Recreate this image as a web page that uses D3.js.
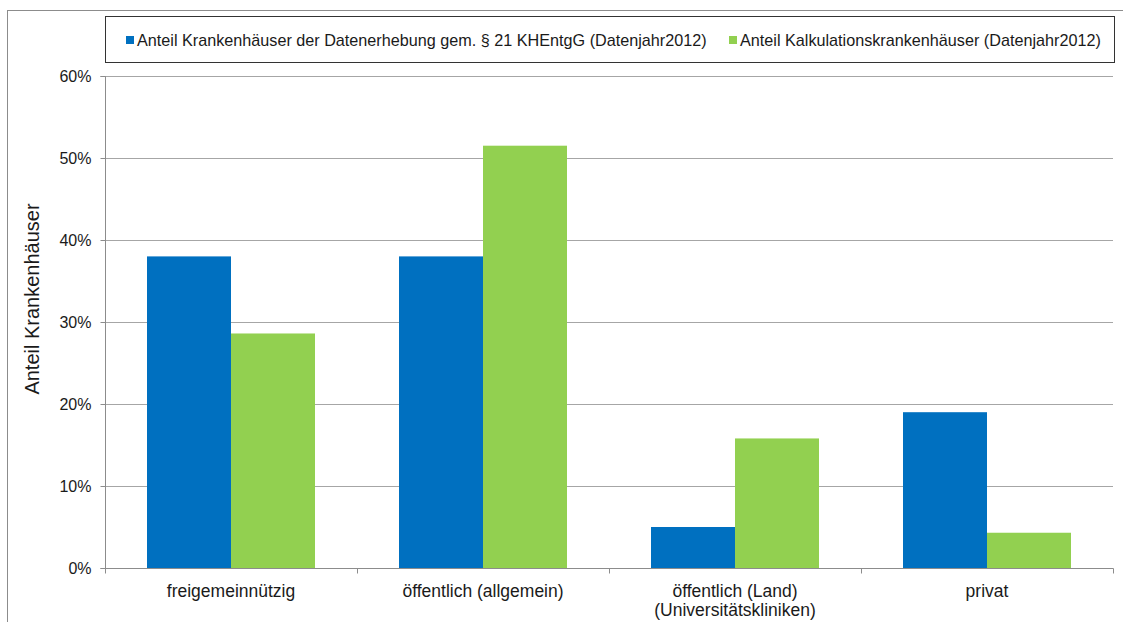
<!DOCTYPE html>
<html>
<head>
<meta charset="utf-8">
<script src="https://cdn.jsdelivr.net/npm/d3@7"></script>
<style>
	body { margin: 0; background: #fff; }
	svg { display: block; font-family: "Liberation Sans", Arial, sans-serif; }
</style>
</head>
<body>
<svg id="chart" width="1123" height="622"></svg>
<script>
const categories = [ 'freigemeinnützig', 'öffentlich (allgemein)', 'öffentlich (Land)\n(Universitätskliniken)', 'privat' ];
const seriesNames = [
	'Anteil Krankenhäuser der Datenerhebung gem. § 21 KHEntgG (Datenjahr2012)',
	'Anteil Kalkulationskrankenhäuser (Datenjahr2012)'
];
const datenerhebung = [ 0.380, 0.380, 0.050, 0.190 ];
const kalkulation = [ 0.286, 0.515, 0.158, 0.043 ];
const yTicks = [ 0, 0.1, 0.2, 0.3, 0.4, 0.5, 0.6 ];
const colors = [ '#0070C0', '#92D050' ];

const width = 1123, height = 622;
const margin = { top: 76, right: 10, bottom: 54, left: 105 };
const plotW = 1113 - margin.left;
const plotH = 568 - margin.top;

const svg = d3.select('#chart');

// outer frame
svg.append('rect')
	.attr('x', 7.5).attr('y', 10.5)
	.attr('width', width + 20).attr('height', height + 20)
	.attr('fill', 'none').attr('stroke', '#8c8c8c').attr('stroke-width', 1);

const g = svg.append('g').attr('transform', 'translate(' + margin.left + ',' + margin.top + ')');

const x0 = d3.scaleBand().domain(categories).range([ 0, plotW ]).paddingInner(1 / 3).paddingOuter(1 / 6);
const x1 = d3.scaleBand().domain([ 0, 1 ]).range([ 0, x0.bandwidth() ]);
const y = d3.scaleLinear().domain([ 0, 0.6 ]).range([ plotH, 0 ]);

// gridlines
g.append('g')
	.selectAll('line')
	.data(yTicks.slice(1))
	.join('line')
	.attr('x1', 0).attr('x2', plotW)
	.attr('y1', d => Math.round(y(d)) + 0.5).attr('y2', d => Math.round(y(d)) + 0.5)
	.attr('stroke', '#a6a6a6');

// bars
const rows = categories.map((c, i) => ({ category: c, values: [ datenerhebung[i], kalkulation[i] ] }));
g.append('g')
	.selectAll('g')
	.data(rows)
	.join('g')
	.attr('transform', d => 'translate(' + x0(d.category) + ',0)')
	.selectAll('rect')
	.data(d => d.values.map((v, k) => ({ k: k, v: v })))
	.join('rect')
	.attr('x', d => x1(d.k))
	.attr('y', d => y(d.v))
	.attr('width', x1.bandwidth())
	.attr('height', d => plotH - y(d.v))
	.attr('fill', d => colors[d.k]);

// y axis
const yAxis = g.append('g')
	.attr('transform', 'translate(0.5,0)')
	.call(d3.axisLeft(y).tickValues(yTicks).tickFormat(d3.format('.0%')).tickSize(5).tickPadding(9));
yAxis.select('.domain').attr('stroke', '#8c8c8c').attr('d', 'M-5,0.5H0V' + (plotH + 0.5) + 'H-5');
yAxis.selectAll('.tick line').attr('stroke', '#8c8c8c');
yAxis.selectAll('.tick text').attr('fill', '#1a1a1a').style('font-size', '16px').attr('dy', '0.36em');

// x axis
const xAxis = g.append('g').attr('transform', 'translate(0,' + (plotH + 0.5) + ')');
xAxis.append('line').attr('x1', 0).attr('x2', plotW + 0.5).attr('stroke', '#8c8c8c');
xAxis.selectAll('.sep')
	.data(d3.range(categories.length + 1))
	.join('line')
	.attr('class', 'sep')
	.attr('x1', i => Math.round(i * x0.step()) + 0.5)
	.attr('x2', i => Math.round(i * x0.step()) + 0.5)
	.attr('y1', 0).attr('y2', 5)
	.attr('stroke', '#8c8c8c');
xAxis.selectAll('.label')
	.data(categories)
	.join('text')
	.attr('class', 'label')
	.attr('x', d => x0(d) + x0.bandwidth() / 2)
	.attr('y', 28)
	.attr('text-anchor', 'middle')
	.attr('fill', '#1a1a1a')
	.style('font-size', '17.5px')
	.each(function(d) {
		const lines = d.split('\n');
		d3.select(this).selectAll('tspan')
			.data(lines)
			.join('tspan')
			.attr('x', x0(d) + x0.bandwidth() / 2)
			.attr('dy', (l, i) => i === 0 ? 0 : 19)
			.text(l => l);
	});

// y axis title
svg.append('text')
	.attr('transform', 'translate(39,299) rotate(-90)')
	.attr('text-anchor', 'middle')
	.attr('fill', '#1a1a1a')
	.style('font-size', '20px')
	.text('Anteil Krankenhäuser');

// legend
const legend = svg.append('g');
legend.append('rect')
	.attr('x', 105.5).attr('y', 16.5)
	.attr('width', 1009).attr('height', 46)
	.attr('fill', '#fff').attr('stroke', '#333').attr('stroke-width', 1);

const legendItemX = [ 126, 729 ];
seriesNames.forEach(function(name, i) {
	legend.append('rect')
		.attr('x', legendItemX[i]).attr('y', 36)
		.attr('width', 8).attr('height', 8)
		.attr('fill', colors[i]);
	legend.append('text')
		.attr('x', legendItemX[i] + 11).attr('y', 46)
		.attr('fill', '#1a1a1a')
		.style('font-size', '16.2px')
		.text(name);
});
</script>
</body>
</html>
